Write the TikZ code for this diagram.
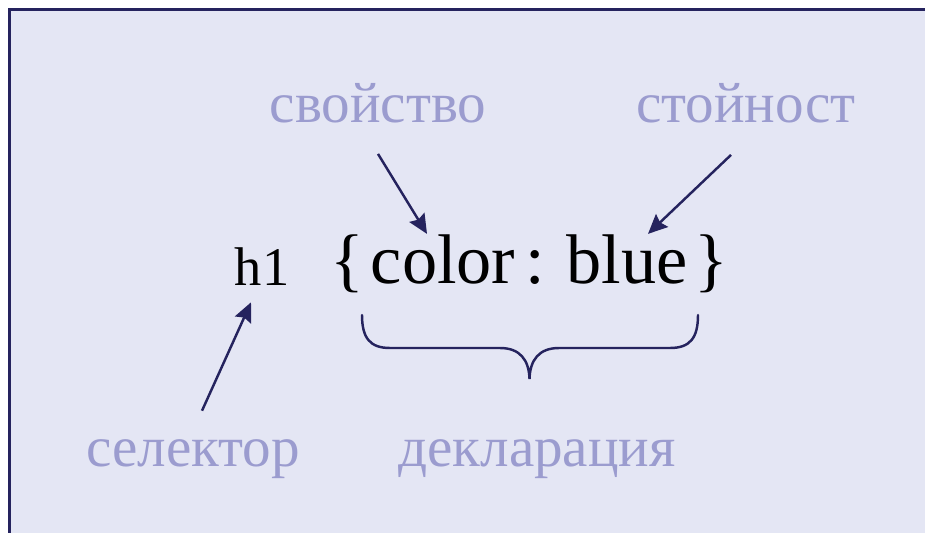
\documentclass[tikz,border=0pt]{standalone}
\usepackage{fontspec}
\setmainfont{Liberation Serif}
\usetikzlibrary{arrows.meta}
\definecolor{paneback}{RGB}{228,230,244}
\definecolor{navy}{RGB}{37,35,94}
\definecolor{lavtext}{RGB}{155,156,207}
\begin{document}
\begin{tikzpicture}[x=0.02cm,y=-0.02cm,
  code/.style={inner sep=0pt,anchor=base,font=\fontsize{40}{44}\selectfont},
  tag/.style={inner sep=0pt,anchor=base,text=lavtext,font=\fontsize{32.5}{36}\selectfont},
  pointer/.style={navy,line width=1.4pt,-{Stealth[length=11pt,width=10pt,inset=1.5pt]}}]
  \useasboundingbox (0,0) rectangle (925,533);
  \fill[paneback] (9,8) rectangle (925,533);
  \draw[navy,line width=1.4pt] (9.5,533) -- (9.5,9.5) -- (925,9.5);
  % the rule
  \node[code,font=\fontsize{31}{36}\selectfont] (sel) at (262,285) {h1};
  \node[code] (lb) at (347,283) {\{};
  \node[code] (prop) at (443,283) {color};
  \node[code] (colon) at (535,283) {:};
  \node[code] (value) at (627,283) {blue};
  \node[code] (rb) at (711,283) {\}};
  % the names
  \node[tag] (lprop) at (378,123) {свойство};
  \node[tag] (lval) at (746,123) {стойност};
  \node[tag] (lsel) at (193,466) {селектор};
  \node[tag] (ldecl) at (537,466) {декларация};
  \draw[pointer] ([shift={(0,30)}]lprop.south) -- ([shift={(-16,0)}]prop.north);
  \draw[pointer] ([shift={(-15,31)}]lval.south) -- ([shift={(21,0)}]value.north);
  \draw[pointer] ([shift={(9,-28)}]lsel.north) -- ([shift={(-11,17)}]sel.south);
  \draw[navy,line width=1.4pt,line cap=round]
    (362,315) .. controls (362,338) and (370,348) .. (390,348) -- (500,348)
    .. controls (520,348) and (529,360) .. (529.5,379)
    .. controls (530,360) and (539,348) .. (559,348) -- (670,348)
    .. controls (690,348) and (698,338) .. (698,315);
\end{tikzpicture}
\end{document}
